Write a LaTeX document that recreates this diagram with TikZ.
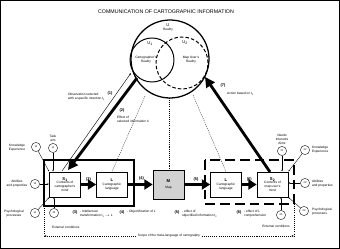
\documentclass[tikz,border=0pt]{standalone}
\usepackage{fontspec}
\setmainfont{Liberation Sans}
\usetikzlibrary{arrows.meta, positioning}

\begin{document}
\begin{tikzpicture}[
    x=0.05cm, y=-0.05cm,
    every node/.style={align=center, inner sep=0pt, font=\fontsize{4.6}{5.6}\selectfont},
    box/.style={draw, line width=0.9pt, minimum width=1.55cm, minimum height=1.25cm},
    tag/.style={font=\fontsize{5.6}{6}\selectfont\bfseries},
    num/.style={draw, circle, line width=0.5pt, minimum size=0.46cm, font=\fontsize{3.6}{4}\selectfont},
    flow/.style={line width=4pt, -{Triangle[length=0.42cm, width=0.5cm]}},
    feed/.style={line width=0.5pt, -{Latex[length=2.5pt, width=2pt]}},
    guide/.style={line width=0.45pt, dash pattern=on 1.5pt off 1.5pt},
    >=Latex
]
\useasboundingbox (0,0) rectangle (340,249);
\draw[line width=1.2pt] (0.6,0.6) rectangle (339.4,248.4);

\node[font=\fontsize{7.5}{8}\selectfont] (title) at (166,12) {COMMUNICATION OF CARTOGRAPHIC INFORMATION};

% realities
\coordinate (u) at (170,59);
\coordinate (u1) at (152,60);
\coordinate (u2) at (182,63);
\draw[line width=1.8pt] (u) circle[radius=1.95cm];
\draw[line width=1.4pt] (u1) circle[radius=1.1cm];
\draw[line width=1.4pt, dash pattern=on 5pt off 3pt] (u2) circle[radius=1.3cm];
\node (ulab) at (168,27) {{\fontsize{6}{7}\selectfont U}\\Reality};
\node (u1lab) at (150,44) {\fontsize{6}{7}\selectfont U\textsubscript{1}};
\node (u1txt) at (146,59.5) {Cartographer's\\Reality};
\node (u2lab) at (185,43) {\fontsize{6}{7}\selectfont U\textsubscript{2}};
\node (u2txt) at (191,59.5) {Map User's\\Reality};

% cartographer
\draw[line width=2.2pt] (44,160) rectangle (134,206);
\node[box] (s1) at (65,184.5) {{\fontsize{6}{7}\selectfont\bfseries S\textsubscript{1}}\\Contents of\\cartographer's\\mind};
\node[box] (l1) at (112,184.5) {{\fontsize{6}{7}\selectfont\bfseries L}\\[1pt]Cartographic\\language};
\node[box, fill=gray!35, minimum height=1.45cm] (m) at (168.5,184.5) {{\fontsize{6}{7}\selectfont\bfseries M}\\[3pt]Map};

% map user
\draw[line width=2.4pt, dash pattern=on 14pt off 7pt] (205,160) rectangle (294,204);
\node[box] (l2) at (226,184.5) {{\fontsize{6}{7}\selectfont\bfseries L}\\[1pt]Cartographic\\language};
\node[box] (s2) at (272.5,184.5) {{\fontsize{6}{7}\selectfont\bfseries S\textsubscript{2}}\\Contents of\\map user's\\mind};

\draw[flow] (s1) -- node[tag, above=2.5pt] {(3)} (l1);
\draw[flow] (l1) -- node[tag, above=3.5pt, pos=0.55] {(4)} (m);
\draw[flow] (m) -- node[tag, above=3pt, pos=0.45] {(5)} (l2);
\draw[flow] (l2) -- node[tag, above=3pt] {(6)} (s2);

% selection and action
\coordinate (obsa) at (62,171);
\coordinate (obsb) at (131,73);
\coordinate (effa) at (137,78);
\coordinate (effb) at (68,170);
\coordinate (acta) at (270,172);
\coordinate (actb) at (205,77);
\draw[line width=0.6pt, -{Latex[length=3pt, width=2.5pt]}] (obsa) -- (obsb);
\draw[line width=4pt, -{Triangle[length=0.5cm, width=0.5cm]}] (effa) -- (effb);
\draw[line width=4pt, -{Triangle[length=0.5cm, width=0.5cm]}] (acta) -- (actb);
\node[tag] (t1) at (110,93) {(1)};
\node[anchor=west, align=left] (t1txt) at (68,97) {Observation selected\\with a specific intention I\textsubscript{1}};
\node[tag] (t2) at (122,110) {(2)};
\node[anchor=west, align=left] (t2txt) at (117,119.5) {Effect of\\selected information I\textsubscript{1}};
\node[tag] (t7) at (223,85) {(7)};
\node[anchor=west] (t7txt) at (227,94) {Action based on I\textsubscript{2}};

% reality to language and map
\coordinate (ubl) at (145,96);
\coordinate (ubm) at (169,98);
\coordinate (ubr) at (193,95);
\draw[guide] (ubl) -- (l1.north);
\draw[guide] (ubm) -- (ubm |- m.north);
\draw[guide] (ubr) -- (l2.north);

% cartographer factors
\node[num] (c11) at (53,148) {11};
\node[num] (c12) at (36,147) {12};
\node[num] (c13) at (35,184) {13};
\node[num] (c14) at (35,213) {14};
\node[num] (c15) at (54,213) {15};
\node[above=2pt of c11] (c11txt) {Task\\aim};
\node (c12txt) at (17,147.5) {Knowledge\\Experience};
\node (c13txt) at (17,184) {Abilities\\and properties};
\node (c14txt) at (14,214) {Psychological\\processes};
\node[anchor=west] (c15txt) at (52,227) {External conditions};
\draw[feed] (c11) -- (c11 |- s1.north);
\draw[feed] (c12) -- (s1.north west);
\draw[feed] (c13) -- (c13 -| s1.west);
\draw[feed] (c14) -- (s1.south west);
\draw[feed] (c15) -- (c15 |- s1.south);

% map user factors
\node[num] (c21) at (282,151) {21};
\node[num] (c22) at (305,150) {22};
\node[num] (c23) at (305,183) {23};
\node[num] (c24) at (304,211) {24};
\node[num] (c25) at (281,215) {25};
\node[above=2pt of c21] (c21txt) {Needs\\Interests\\Aims};
\node[anchor=west, align=left] (c22txt) at (312,150) {Knowledge\\Experience};
\node[anchor=west, align=left] (c23txt) at (312,184) {Abilities\\and properties};
\node[anchor=west, align=left] (c24txt) at (312,212) {Psychological\\processes};
\node (c25txt) at (276,226.5) {External conditions};
\draw[feed] (c21) -- (c21 |- s2.north);
\draw[feed] (c22) -- (s2.north east);
\draw[feed] (c23) -- (c23 -| s2.east);
\draw[feed] (c24) -- (s2.south east);
\draw[feed] (c25) -- (c25 |- s2.south);

% process notes
\node[tag] (n3) at (75,212) {(3)};
\node[anchor=north west, align=left] (n3txt) at (80,210.5) {- Intellectual\\transformation I\textsubscript{1} $\to$ L};
\node[tag] (n4) at (122,212) {(4)};
\node[anchor=north west, align=left] (n4txt) at (127,210.5) {- Objectification of L};
\node[tag] (n5) at (177,212) {(5)};
\node[anchor=north west, align=left] (n5txt) at (182,210.5) {- effect of\\objectified information I\textsubscript{2}};
\node[tag] (n6) at (239,212) {(6)};
\node[anchor=north west, align=left] (n6txt) at (244,210.5) {- effect of L\\comprehension};

% scope
\coordinate (scl) at (44,236);
\coordinate (scr) at (294,236);
\draw[guide] (44,206) -- (scl);
\draw[guide] (294,204) -- (scr);
\node[inner xsep=2pt] (scope) at (169,236) {Scope of the meta-language of cartography};
\draw[guide, -{Latex[length=3pt, width=2.5pt]}] (scope.west) -- (scl);
\draw[guide, -{Latex[length=3pt, width=2.5pt]}] (scope.east) -- (scr);
\end{tikzpicture}
\end{document}
